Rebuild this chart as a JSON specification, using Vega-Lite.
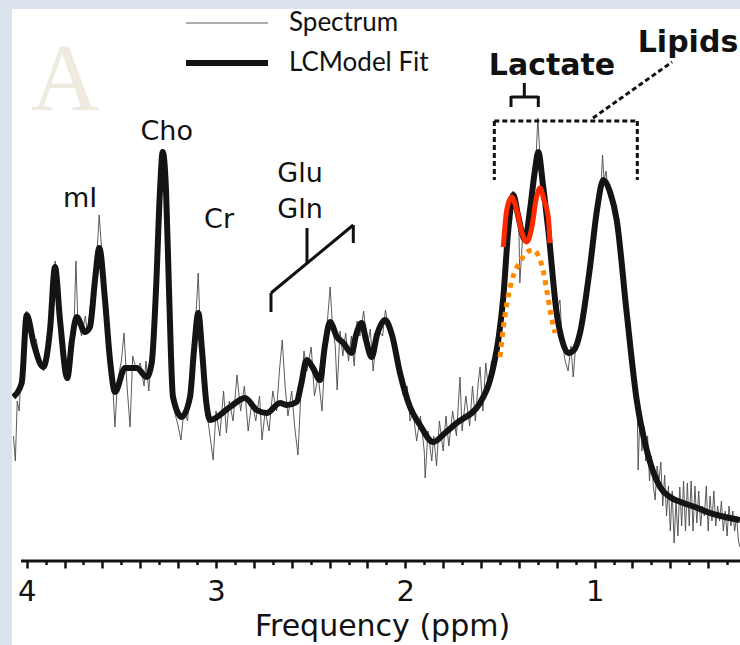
{
  "$schema": "https://vega.github.io/schema/vega-lite/v6.json",
  "width": 728,
  "height": 636,
  "autosize": {"type": "none"},
  "padding": {"left": 12, "top": 9, "right": 0, "bottom": 0},
  "background": "#dbe3ee",
  "view": {"fill": "white", "stroke": null},
  "config": {"font": "DejaVu Sans"},
  "datasets": {
    "spectrum": [
      {"ppm":4.07,"v":125,"series":"Spectrum"},{"ppm":4.06,"v":100,"series":"Spectrum"},{"ppm":4.05,"v":160,"series":"Spectrum"},{"ppm":4.04,"v":150,"series":"Spectrum"},{"ppm":4.03,"v":185,"series":"Spectrum"},{"ppm":4.01,"v":230,"series":"Spectrum"},{"ppm":4.0,"v":250,"series":"Spectrum"},{"ppm":3.98,"v":228,"series":"Spectrum"},{"ppm":3.96,"v":212,"series":"Spectrum"},{"ppm":3.95,"v":222,"series":"Spectrum"},{"ppm":3.93,"v":200,"series":"Spectrum"},{"ppm":3.91,"v":190,"series":"Spectrum"},{"ppm":3.89,"v":208,"series":"Spectrum"},{"ppm":3.87,"v":240,"series":"Spectrum"},{"ppm":3.85,"v":300,"series":"Spectrum"},{"ppm":3.83,"v":255,"series":"Spectrum"},{"ppm":3.81,"v":205,"series":"Spectrum"},{"ppm":3.79,"v":180,"series":"Spectrum"},{"ppm":3.77,"v":205,"series":"Spectrum"},{"ppm":3.75,"v":235,"series":"Spectrum"},{"ppm":3.74,"v":300,"series":"Spectrum"},{"ppm":3.73,"v":240,"series":"Spectrum"},{"ppm":3.71,"v":225,"series":"Spectrum"},{"ppm":3.69,"v":245,"series":"Spectrum"},{"ppm":3.68,"v":228,"series":"Spectrum"},{"ppm":3.66,"v":262,"series":"Spectrum"},{"ppm":3.64,"v":285,"series":"Spectrum"},{"ppm":3.625,"v":320,"series":"Spectrum"},{"ppm":3.617,"v":346,"series":"Spectrum"},{"ppm":3.6,"v":300,"series":"Spectrum"},{"ppm":3.58,"v":250,"series":"Spectrum"},{"ppm":3.56,"v":190,"series":"Spectrum"},{"ppm":3.545,"v":175,"series":"Spectrum"},{"ppm":3.534,"v":134,"series":"Spectrum"},{"ppm":3.52,"v":180,"series":"Spectrum"},{"ppm":3.5,"v":200,"series":"Spectrum"},{"ppm":3.486,"v":228,"series":"Spectrum"},{"ppm":3.47,"v":175,"series":"Spectrum"},{"ppm":3.454,"v":134,"series":"Spectrum"},{"ppm":3.44,"v":205,"series":"Spectrum"},{"ppm":3.42,"v":190,"series":"Spectrum"},{"ppm":3.4,"v":198,"series":"Spectrum"},{"ppm":3.38,"v":175,"series":"Spectrum"},{"ppm":3.37,"v":200,"series":"Spectrum"},{"ppm":3.355,"v":170,"series":"Spectrum"},{"ppm":3.34,"v":205,"series":"Spectrum"},{"ppm":3.32,"v":265,"series":"Spectrum"},{"ppm":3.3,"v":360,"series":"Spectrum"},{"ppm":3.285,"v":412,"series":"Spectrum"},{"ppm":3.27,"v":385,"series":"Spectrum"},{"ppm":3.25,"v":280,"series":"Spectrum"},{"ppm":3.235,"v":190,"series":"Spectrum"},{"ppm":3.22,"v":150,"series":"Spectrum"},{"ppm":3.2,"v":135,"series":"Spectrum"},{"ppm":3.185,"v":121,"series":"Spectrum"},{"ppm":3.17,"v":150,"series":"Spectrum"},{"ppm":3.15,"v":140,"series":"Spectrum"},{"ppm":3.14,"v":168,"series":"Spectrum"},{"ppm":3.12,"v":205,"series":"Spectrum"},{"ppm":3.1,"v":265,"series":"Spectrum"},{"ppm":3.094,"v":288,"series":"Spectrum"},{"ppm":3.085,"v":240,"series":"Spectrum"},{"ppm":3.07,"v":205,"series":"Spectrum"},{"ppm":3.05,"v":150,"series":"Spectrum"},{"ppm":3.035,"v":130,"series":"Spectrum"},{"ppm":3.015,"v":101,"series":"Spectrum"},{"ppm":3.0,"v":150,"series":"Spectrum"},{"ppm":2.98,"v":125,"series":"Spectrum"},{"ppm":2.96,"v":170,"series":"Spectrum"},{"ppm":2.945,"v":128,"series":"Spectrum"},{"ppm":2.93,"v":160,"series":"Spectrum"},{"ppm":2.91,"v":140,"series":"Spectrum"},{"ppm":2.889,"v":186,"series":"Spectrum"},{"ppm":2.87,"v":150,"series":"Spectrum"},{"ppm":2.85,"v":175,"series":"Spectrum"},{"ppm":2.83,"v":130,"series":"Spectrum"},{"ppm":2.81,"v":160,"series":"Spectrum"},{"ppm":2.79,"v":140,"series":"Spectrum"},{"ppm":2.77,"v":165,"series":"Spectrum"},{"ppm":2.757,"v":121,"series":"Spectrum"},{"ppm":2.74,"v":150,"series":"Spectrum"},{"ppm":2.72,"v":130,"series":"Spectrum"},{"ppm":2.7,"v":170,"series":"Spectrum"},{"ppm":2.68,"v":150,"series":"Spectrum"},{"ppm":2.665,"v":190,"series":"Spectrum"},{"ppm":2.65,"v":221,"series":"Spectrum"},{"ppm":2.635,"v":175,"series":"Spectrum"},{"ppm":2.62,"v":145,"series":"Spectrum"},{"ppm":2.6,"v":170,"series":"Spectrum"},{"ppm":2.585,"v":135,"series":"Spectrum"},{"ppm":2.567,"v":106,"series":"Spectrum"},{"ppm":2.55,"v":175,"series":"Spectrum"},{"ppm":2.535,"v":210,"series":"Spectrum"},{"ppm":2.52,"v":190,"series":"Spectrum"},{"ppm":2.497,"v":214,"series":"Spectrum"},{"ppm":2.48,"v":165,"series":"Spectrum"},{"ppm":2.46,"v":185,"series":"Spectrum"},{"ppm":2.44,"v":150,"series":"Spectrum"},{"ppm":2.42,"v":220,"series":"Spectrum"},{"ppm":2.397,"v":274,"series":"Spectrum"},{"ppm":2.385,"v":235,"series":"Spectrum"},{"ppm":2.37,"v":215,"series":"Spectrum"},{"ppm":2.36,"v":171,"series":"Spectrum"},{"ppm":2.345,"v":230,"series":"Spectrum"},{"ppm":2.33,"v":205,"series":"Spectrum"},{"ppm":2.315,"v":228,"series":"Spectrum"},{"ppm":2.3,"v":200,"series":"Spectrum"},{"ppm":2.285,"v":225,"series":"Spectrum"},{"ppm":2.27,"v":195,"series":"Spectrum"},{"ppm":2.255,"v":240,"series":"Spectrum"},{"ppm":2.24,"v":225,"series":"Spectrum"},{"ppm":2.22,"v":250,"series":"Spectrum"},{"ppm":2.2,"v":215,"series":"Spectrum"},{"ppm":2.185,"v":232,"series":"Spectrum"},{"ppm":2.17,"v":190,"series":"Spectrum"},{"ppm":2.155,"v":218,"series":"Spectrum"},{"ppm":2.14,"v":230,"series":"Spectrum"},{"ppm":2.12,"v":225,"series":"Spectrum"},{"ppm":2.105,"v":251,"series":"Spectrum"},{"ppm":2.09,"v":235,"series":"Spectrum"},{"ppm":2.07,"v":228,"series":"Spectrum"},{"ppm":2.05,"v":200,"series":"Spectrum"},{"ppm":2.03,"v":185,"series":"Spectrum"},{"ppm":2.01,"v":165,"series":"Spectrum"},{"ppm":1.99,"v":175,"series":"Spectrum"},{"ppm":1.975,"v":140,"series":"Spectrum"},{"ppm":1.96,"v":150,"series":"Spectrum"},{"ppm":1.94,"v":120,"series":"Spectrum"},{"ppm":1.92,"v":145,"series":"Spectrum"},{"ppm":1.9,"v":110,"series":"Spectrum"},{"ppm":1.895,"v":83,"series":"Spectrum"},{"ppm":1.88,"v":130,"series":"Spectrum"},{"ppm":1.86,"v":100,"series":"Spectrum"},{"ppm":1.85,"v":125,"series":"Spectrum"},{"ppm":1.835,"v":95,"series":"Spectrum"},{"ppm":1.82,"v":140,"series":"Spectrum"},{"ppm":1.8,"v":110,"series":"Spectrum"},{"ppm":1.785,"v":145,"series":"Spectrum"},{"ppm":1.77,"v":115,"series":"Spectrum"},{"ppm":1.75,"v":150,"series":"Spectrum"},{"ppm":1.73,"v":125,"series":"Spectrum"},{"ppm":1.711,"v":184,"series":"Spectrum"},{"ppm":1.7,"v":130,"series":"Spectrum"},{"ppm":1.68,"v":165,"series":"Spectrum"},{"ppm":1.66,"v":135,"series":"Spectrum"},{"ppm":1.645,"v":175,"series":"Spectrum"},{"ppm":1.63,"v":140,"series":"Spectrum"},{"ppm":1.615,"v":178,"series":"Spectrum"},{"ppm":1.605,"v":194,"series":"Spectrum"},{"ppm":1.59,"v":150,"series":"Spectrum"},{"ppm":1.575,"v":198,"series":"Spectrum"},{"ppm":1.56,"v":170,"series":"Spectrum"},{"ppm":1.545,"v":200,"series":"Spectrum"},{"ppm":1.53,"v":190,"series":"Spectrum"},{"ppm":1.515,"v":215,"series":"Spectrum"},{"ppm":1.5,"v":235,"series":"Spectrum"},{"ppm":1.485,"v":262,"series":"Spectrum"},{"ppm":1.47,"v":300,"series":"Spectrum"},{"ppm":1.455,"v":335,"series":"Spectrum"},{"ppm":1.44,"v":355,"series":"Spectrum"},{"ppm":1.43,"v":370,"series":"Spectrum"},{"ppm":1.42,"v":352,"series":"Spectrum"},{"ppm":1.41,"v":360,"series":"Spectrum"},{"ppm":1.4,"v":335,"series":"Spectrum"},{"ppm":1.395,"v":278,"series":"Spectrum"},{"ppm":1.38,"v":325,"series":"Spectrum"},{"ppm":1.37,"v":320,"series":"Spectrum"},{"ppm":1.355,"v":335,"series":"Spectrum"},{"ppm":1.34,"v":355,"series":"Spectrum"},{"ppm":1.325,"v":385,"series":"Spectrum"},{"ppm":1.31,"v":400,"series":"Spectrum"},{"ppm":1.3,"v":443,"series":"Spectrum"},{"ppm":1.29,"v":410,"series":"Spectrum"},{"ppm":1.275,"v":380,"series":"Spectrum"},{"ppm":1.26,"v":350,"series":"Spectrum"},{"ppm":1.245,"v":330,"series":"Spectrum"},{"ppm":1.23,"v":300,"series":"Spectrum"},{"ppm":1.215,"v":275,"series":"Spectrum"},{"ppm":1.2,"v":250,"series":"Spectrum"},{"ppm":1.183,"v":261,"series":"Spectrum"},{"ppm":1.17,"v":215,"series":"Spectrum"},{"ppm":1.155,"v":200,"series":"Spectrum"},{"ppm":1.14,"v":190,"series":"Spectrum"},{"ppm":1.125,"v":215,"series":"Spectrum"},{"ppm":1.113,"v":184,"series":"Spectrum"},{"ppm":1.1,"v":215,"series":"Spectrum"},{"ppm":1.085,"v":220,"series":"Spectrum"},{"ppm":1.07,"v":240,"series":"Spectrum"},{"ppm":1.055,"v":260,"series":"Spectrum"},{"ppm":1.04,"v":270,"series":"Spectrum"},{"ppm":1.025,"v":300,"series":"Spectrum"},{"ppm":1.01,"v":325,"series":"Spectrum"},{"ppm":0.995,"v":345,"series":"Spectrum"},{"ppm":0.98,"v":360,"series":"Spectrum"},{"ppm":0.965,"v":380,"series":"Spectrum"},{"ppm":0.958,"v":406,"series":"Spectrum"},{"ppm":0.95,"v":380,"series":"Spectrum"},{"ppm":0.94,"v":390,"series":"Spectrum"},{"ppm":0.925,"v":365,"series":"Spectrum"},{"ppm":0.91,"v":362,"series":"Spectrum"},{"ppm":0.895,"v":355,"series":"Spectrum"},{"ppm":0.88,"v":338,"series":"Spectrum"},{"ppm":0.865,"v":310,"series":"Spectrum"},{"ppm":0.85,"v":285,"series":"Spectrum"},{"ppm":0.835,"v":255,"series":"Spectrum"},{"ppm":0.82,"v":230,"series":"Spectrum"},{"ppm":0.805,"v":205,"series":"Spectrum"},{"ppm":0.79,"v":185,"series":"Spectrum"},{"ppm":0.775,"v":155,"series":"Spectrum"},{"ppm":0.77,"v":91,"series":"Spectrum"},{"ppm":0.76,"v":150,"series":"Spectrum"},{"ppm":0.75,"v":110,"series":"Spectrum"},{"ppm":0.74,"v":135,"series":"Spectrum"},{"ppm":0.73,"v":100,"series":"Spectrum"},{"ppm":0.72,"v":125,"series":"Spectrum"},{"ppm":0.71,"v":80,"series":"Spectrum"},{"ppm":0.7,"v":105,"series":"Spectrum"},{"ppm":0.69,"v":75,"series":"Spectrum"},{"ppm":0.68,"v":61,"series":"Spectrum"},{"ppm":0.67,"v":95,"series":"Spectrum"},{"ppm":0.66,"v":80,"series":"Spectrum"},{"ppm":0.65,"v":99,"series":"Spectrum"},{"ppm":0.64,"v":55,"series":"Spectrum"},{"ppm":0.63,"v":86,"series":"Spectrum"},{"ppm":0.62,"v":45,"series":"Spectrum"},{"ppm":0.61,"v":75,"series":"Spectrum"},{"ppm":0.6,"v":30,"series":"Spectrum"},{"ppm":0.59,"v":70,"series":"Spectrum"},{"ppm":0.58,"v":18,"series":"Spectrum"},{"ppm":0.57,"v":60,"series":"Spectrum"},{"ppm":0.56,"v":25,"series":"Spectrum"},{"ppm":0.55,"v":74,"series":"Spectrum"},{"ppm":0.54,"v":35,"series":"Spectrum"},{"ppm":0.53,"v":80,"series":"Spectrum"},{"ppm":0.52,"v":30,"series":"Spectrum"},{"ppm":0.51,"v":78,"series":"Spectrum"},{"ppm":0.5,"v":35,"series":"Spectrum"},{"ppm":0.49,"v":80,"series":"Spectrum"},{"ppm":0.48,"v":30,"series":"Spectrum"},{"ppm":0.47,"v":75,"series":"Spectrum"},{"ppm":0.46,"v":38,"series":"Spectrum"},{"ppm":0.45,"v":70,"series":"Spectrum"},{"ppm":0.44,"v":35,"series":"Spectrum"},{"ppm":0.43,"v":55,"series":"Spectrum"},{"ppm":0.42,"v":45,"series":"Spectrum"},{"ppm":0.41,"v":75,"series":"Spectrum"},{"ppm":0.4,"v":30,"series":"Spectrum"},{"ppm":0.39,"v":65,"series":"Spectrum"},{"ppm":0.38,"v":40,"series":"Spectrum"},{"ppm":0.37,"v":70,"series":"Spectrum"},{"ppm":0.36,"v":35,"series":"Spectrum"},{"ppm":0.35,"v":55,"series":"Spectrum"},{"ppm":0.34,"v":40,"series":"Spectrum"},{"ppm":0.33,"v":60,"series":"Spectrum"},{"ppm":0.32,"v":30,"series":"Spectrum"},{"ppm":0.31,"v":50,"series":"Spectrum"},{"ppm":0.3,"v":25,"series":"Spectrum"},{"ppm":0.29,"v":55,"series":"Spectrum"},{"ppm":0.28,"v":35,"series":"Spectrum"},{"ppm":0.27,"v":50,"series":"Spectrum"},{"ppm":0.26,"v":30,"series":"Spectrum"},{"ppm":0.25,"v":45,"series":"Spectrum"},{"ppm":0.24,"v":20,"series":"Spectrum"},{"ppm":0.232,"v":14,"series":"Spectrum"}
    ],
    "fit": [
      {"ppm":4.0708,"v":164,"series":"LCModel Fit"},{"ppm":4.0264,"v":178,"series":"LCModel Fit"},{"ppm":4.0,"v":246,"series":"LCModel Fit"},{"ppm":3.9614,"v":216,"series":"LCModel Fit"},{"ppm":3.9123,"v":194,"series":"LCModel Fit"},{"ppm":3.8769,"v":231,"series":"LCModel Fit"},{"ppm":3.8505,"v":294,"series":"LCModel Fit"},{"ppm":3.8241,"v":241,"series":"LCModel Fit"},{"ppm":3.7855,"v":183,"series":"LCModel Fit"},{"ppm":3.7607,"v":221,"series":"LCModel Fit"},{"ppm":3.7359,"v":244,"series":"LCModel Fit"},{"ppm":3.692,"v":229,"series":"LCModel Fit"},{"ppm":3.6656,"v":234,"series":"LCModel Fit"},{"ppm":3.6392,"v":281,"series":"LCModel Fit"},{"ppm":3.6165,"v":313,"series":"LCModel Fit"},{"ppm":3.5864,"v":261,"series":"LCModel Fit"},{"ppm":3.56,"v":201,"series":"LCModel Fit"},{"ppm":3.5335,"v":169,"series":"LCModel Fit"},{"ppm":3.4807,"v":193,"series":"LCModel Fit"},{"ppm":3.4189,"v":193,"series":"LCModel Fit"},{"ppm":3.3661,"v":184,"series":"LCModel Fit"},{"ppm":3.3397,"v":198,"series":"LCModel Fit"},{"ppm":3.317,"v":271,"series":"LCModel Fit"},{"ppm":3.2958,"v":371,"series":"LCModel Fit"},{"ppm":3.2816,"v":409,"series":"LCModel Fit"},{"ppm":3.2641,"v":371,"series":"LCModel Fit"},{"ppm":3.2483,"v":271,"series":"LCModel Fit"},{"ppm":3.2272,"v":164,"series":"LCModel Fit"},{"ppm":3.1812,"v":144,"series":"LCModel Fit"},{"ppm":3.1373,"v":164,"series":"LCModel Fit"},{"ppm":3.1162,"v":211,"series":"LCModel Fit"},{"ppm":3.0935,"v":248,"series":"LCModel Fit"},{"ppm":3.074,"v":211,"series":"LCModel Fit"},{"ppm":3.0528,"v":161,"series":"LCModel Fit"},{"ppm":3.0317,"v":141,"series":"LCModel Fit"},{"ppm":2.926,"v":154,"series":"LCModel Fit"},{"ppm":2.8468,"v":163,"series":"LCModel Fit"},{"ppm":2.785,"v":151,"series":"LCModel Fit"},{"ppm":2.7322,"v":148,"series":"LCModel Fit"},{"ppm":2.6619,"v":158,"series":"LCModel Fit"},{"ppm":2.6265,"v":156,"series":"LCModel Fit"},{"ppm":2.5737,"v":159,"series":"LCModel Fit"},{"ppm":2.551,"v":176,"series":"LCModel Fit"},{"ppm":2.5209,"v":201,"series":"LCModel Fit"},{"ppm":2.4876,"v":193,"series":"LCModel Fit"},{"ppm":2.4506,"v":181,"series":"LCModel Fit"},{"ppm":2.4242,"v":216,"series":"LCModel Fit"},{"ppm":2.3978,"v":239,"series":"LCModel Fit"},{"ppm":2.3608,"v":224,"series":"LCModel Fit"},{"ppm":2.3275,"v":218,"series":"LCModel Fit"},{"ppm":2.2832,"v":208,"series":"LCModel Fit"},{"ppm":2.2604,"v":226,"series":"LCModel Fit"},{"ppm":2.2303,"v":238,"series":"LCModel Fit"},{"ppm":2.2076,"v":221,"series":"LCModel Fit"},{"ppm":2.1775,"v":204,"series":"LCModel Fit"},{"ppm":2.1495,"v":226,"series":"LCModel Fit"},{"ppm":2.1073,"v":241,"series":"LCModel Fit"},{"ppm":2.0703,"v":226,"series":"LCModel Fit"},{"ppm":2.028,"v":188,"series":"LCModel Fit"},{"ppm":1.9752,"v":154,"series":"LCModel Fit"},{"ppm":1.9224,"v":136,"series":"LCModel Fit"},{"ppm":1.8521,"v":119,"series":"LCModel Fit"},{"ppm":1.7903,"v":128,"series":"LCModel Fit"},{"ppm":1.7285,"v":138,"series":"LCModel Fit"},{"ppm":1.6054,"v":158,"series":"LCModel Fit"},{"ppm":1.5351,"v":194,"series":"LCModel Fit"},{"ppm":1.505,"v":226,"series":"LCModel Fit"},{"ppm":1.4823,"v":264,"series":"LCModel Fit"},{"ppm":1.4559,"v":331,"series":"LCModel Fit"},{"ppm":1.4295,"v":366,"series":"LCModel Fit"},{"ppm":1.4047,"v":346,"series":"LCModel Fit"},{"ppm":1.3677,"v":321,"series":"LCModel Fit"},{"ppm":1.3413,"v":351,"series":"LCModel Fit"},{"ppm":1.3149,"v":391,"series":"LCModel Fit"},{"ppm":1.2975,"v":409,"series":"LCModel Fit"},{"ppm":1.2727,"v":376,"series":"LCModel Fit"},{"ppm":1.2447,"v":331,"series":"LCModel Fit"},{"ppm":1.2003,"v":248,"series":"LCModel Fit"},{"ppm":1.1723,"v":221,"series":"LCModel Fit"},{"ppm":1.139,"v":208,"series":"LCModel Fit"},{"ppm":1.1089,"v":211,"series":"LCModel Fit"},{"ppm":1.0772,"v":228,"series":"LCModel Fit"},{"ppm":1.0243,"v":294,"series":"LCModel Fit"},{"ppm":0.9874,"v":351,"series":"LCModel Fit"},{"ppm":0.954,"v":381,"series":"LCModel Fit"},{"ppm":0.9186,"v":369,"series":"LCModel Fit"},{"ppm":0.8832,"v":341,"series":"LCModel Fit"},{"ppm":0.8304,"v":248,"series":"LCModel Fit"},{"ppm":0.7776,"v":161,"series":"LCModel Fit"},{"ppm":0.7247,"v":111,"series":"LCModel Fit"},{"ppm":0.6545,"v":74,"series":"LCModel Fit"},{"ppm":0.6017,"v":64,"series":"LCModel Fit"},{"ppm":0.5314,"v":58,"series":"LCModel Fit"},{"ppm":0.4696,"v":54,"series":"LCModel Fit"},{"ppm":0.3904,"v":48,"series":"LCModel Fit"},{"ppm":0.3112,"v":44,"series":"LCModel Fit"},{"ppm":0.2319,"v":41,"series":"LCModel Fit"}
    ],
    "lactateDoublet": [
      {"ppm":1.4823,"v":314},{"ppm":1.4643,"v":351},{"ppm":1.4379,"v":364},{"ppm":1.4115,"v":351},{"ppm":1.3851,"v":329},{"ppm":1.3587,"v":319},{"ppm":1.3323,"v":333},{"ppm":1.3096,"v":361},{"ppm":1.2884,"v":373},{"ppm":1.2673,"v":361},{"ppm":1.2446,"v":344},{"ppm":1.2356,"v":318}
    ],
    "lactateDotted": [
      {"ppm":1.4997,"v":204},{"ppm":1.4733,"v":246},{"ppm":1.4363,"v":281},{"ppm":1.3941,"v":299},{"ppm":1.3571,"v":309},{"ppm":1.3254,"v":311},{"ppm":1.299,"v":306},{"ppm":1.2726,"v":291},{"ppm":1.2514,"v":269},{"ppm":1.2303,"v":246},{"ppm":1.2092,"v":228}
    ],
    "brackets": [
      {"ppm":2.7095,"ppm2":2.7095,"v":268,"v2":249},
      {"ppm":2.7095,"ppm2":2.2747,"v":268,"v2":336},
      {"ppm":2.2747,"ppm2":2.2747,"v":336,"v2":318},
      {"ppm":2.5193,"ppm2":2.5193,"v":298,"v2":333},
      {"ppm":1.4416,"ppm2":1.2974,"v":464,"v2":464},
      {"ppm":1.4416,"ppm2":1.4416,"v":465,"v2":454},
      {"ppm":1.2974,"ppm2":1.2974,"v":465,"v2":454},
      {"ppm":1.3713,"ppm2":1.3713,"v":464,"v2":478},
      {"ppm":4.03,"ppm2":0.2319,"v":0,"v2":0}
    ],
    "dashed": [
      {"ppm":1.5298,"ppm2":0.7744,"v":440,"v2":440},
      {"ppm":1.5298,"ppm2":1.5298,"v":440,"v2":381},
      {"ppm":0.7744,"ppm2":0.7744,"v":440,"v2":381},
      {"ppm":1.0085,"ppm2":0.591,"v":443,"v2":499}
    ],
    "labels": [
      {"ppm":3.7184,"v":354,"label":"mI"},
      {"ppm":3.2604,"v":421,"label":"Cho"},
      {"ppm":2.9841,"v":333,"label":"Cr"},
      {"ppm":2.5563,"v":379,"label":"Glu"},
      {"ppm":2.5563,"v":343,"label":"Gln"}
    ],
    "boldLabels": [
      {"ppm":1.225,"v":486,"label":"Lactate"},
      {"ppm":0.5066,"v":509,"label":"Lipids"}
    ],
    "panel": [
      {"ppm":3.7977,"v":451,"label":"A"}
    ]
  },
  "encoding": {
    "x": {
      "field": "ppm",
      "type": "quantitative",
      "scale": {"domain": [0.2319, 4.0777], "reverse": true, "nice": false, "zero": false},
      "axis": {
        "values": [4.0,3.9,3.8,3.7,3.6,3.5,3.4,3.3,3.2,3.1,3.0,2.9,2.8,2.7,2.6,2.5,2.4,2.3,2.2,2.1,2.0,1.9,1.8,1.7,1.6,1.5,1.4,1.3,1.2,1.1,1.0,0.9,0.8,0.7,0.6,0.5,0.4,0.3],
        "labelExpr": "abs(datum.value - round(datum.value)) < 0.001 ? format(datum.value, 'd') : ''",
        "offset": -84,
        "domain": false,
        "grid": false,
        "tickColor": "#111111",
        "tickWidth": 2.5,
        "tickSize": {"condition": {"test": "abs(datum.value * 5 - round(datum.value * 5)) < 0.01", "value": 7}, "value": 3.5},
        "labelFont": "DejaVu Sans",
        "labelFontSize": 29,
        "labelColor": "#111111",
        "labelPadding": 9,
        "labelOverlap": false,
        "labelFlush": false,
        "title": "Frequency (ppm)",
        "titleFont": "DejaVu Sans",
        "titleFontSize": 30,
        "titleFontWeight": "normal",
        "titleColor": "#111111",
        "titleBaseline": "alphabetic",
        "titleAlign": "center",
        "titleX": 370,
        "titleY": 74
      }
    },
    "y": {
      "field": "v",
      "type": "quantitative",
      "scale": {"domain": [-84, 552], "nice": false, "zero": false},
      "axis": null
    }
  },
  "layer": [
    {
      "data": {"name": "spectrum"},
      "mark": {"type": "line", "clip": true},
      "encoding": {
        "color": {"field": "series", "type": "nominal", "scale": {"domain": ["Spectrum", "LCModel Fit"], "range": ["#4a4a4a", "#141414"]},
          "legend": {"orient": "none", "legendX": 171, "legendY": -1, "title": null, "symbolType": "stroke", "symbolSize": 6724, "clipHeight": 30, "rowPadding": 10, "padding": 0, "labelFont": "Lato", "labelFontSize": 26, "labelColor": "#111111", "labelOffset": 18}},
        "strokeWidth": {"field": "series", "type": "ordinal", "scale": {"domain": ["Spectrum", "LCModel Fit"], "range": [0.9, 6]},
          "legend": {"orient": "none", "legendX": 171, "legendY": -1, "title": null, "symbolType": "stroke", "symbolSize": 6724, "clipHeight": 30, "rowPadding": 10, "padding": 0, "labelFont": "Lato", "labelFontSize": 26, "labelColor": "#111111", "labelOffset": 18}}
      }
    },
    {
      "data": {"name": "fit"},
      "mark": {"type": "line", "clip": true, "interpolate": "monotone", "strokeJoin": "round"},
      "encoding": {
        "color": {"field": "series", "type": "nominal"},
        "strokeWidth": {"field": "series", "type": "ordinal"}
      }
    },
    {
      "data": {"name": "lactateDotted"},
      "mark": {"type": "line", "color": "#ff8a00", "strokeWidth": 5, "strokeDash": [5, 5], "interpolate": "monotone"},
      "encoding": {}
    },
    {
      "data": {"name": "lactateDoublet"},
      "mark": {"type": "line", "color": "#ff2a00", "strokeWidth": 5, "interpolate": "monotone", "strokeJoin": "round"},
      "encoding": {}
    },
    {
      "data": {"name": "brackets"},
      "mark": {"type": "rule", "color": "#111111", "strokeWidth": 3},
      "encoding": {"x2": {"field": "ppm2"}, "y2": {"field": "v2"}}
    },
    {
      "data": {"name": "dashed"},
      "mark": {"type": "rule", "color": "#111111", "strokeWidth": 3, "strokeDash": [5, 3]},
      "encoding": {"x2": {"field": "ppm2"}, "y2": {"field": "v2"}}
    },
    {
      "data": {"name": "labels"},
      "mark": {"type": "text", "font": "DejaVu Sans", "fontSize": 27, "baseline": "alphabetic", "align": "center", "color": "#111111"},
      "encoding": {"text": {"field": "label"}}
    },
    {
      "data": {"name": "boldLabels"},
      "mark": {"type": "text", "font": "DejaVu Sans", "fontSize": 30, "fontWeight": "bold", "baseline": "alphabetic", "align": "center", "color": "#111111"},
      "encoding": {"text": {"field": "label"}}
    },
    {
      "data": {"name": "panel"},
      "mark": {"type": "text", "font": "Liberation Serif", "fontSize": 95, "baseline": "alphabetic", "align": "center", "color": "#eeeadf"},
      "encoding": {"text": {"field": "label"}}
    }
  ]
}
